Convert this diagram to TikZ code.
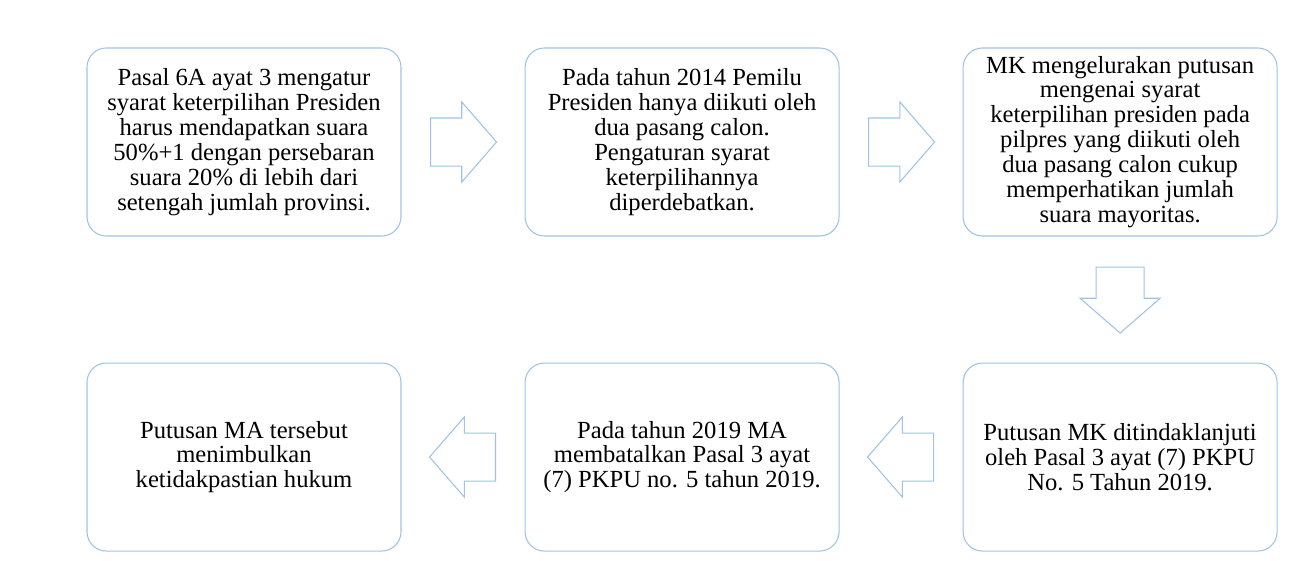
\documentclass[tikz,border=0pt]{standalone}
\usepackage{fontspec}
\setmainfont{Liberation Serif}
\usepackage{xcolor}
\usepackage{tikz}
\usetikzlibrary{positioning,calc,shapes.arrows}
\definecolor{boxblue}{RGB}{157,195,230}
\tikzset{
  stepbox/.style={
    draw=boxblue,
    rectangle,
    rounded corners=11pt,
    line width=0.6pt,
    align=center,
    font=\fontsize{14}{14.2}\selectfont,
    minimum width=62.8mm,
    minimum height=37.6mm,
    inner sep=2pt
  },
  blockarrow/.style={
    draw=boxblue,
    single arrow,
    line width=0.6pt,
    single arrow head extend=3.2mm,
    single arrow head indent=0pt,
    single arrow tip angle=98,
    minimum height=13.2mm,
    inner xsep=0pt,
    inner ysep=4.7mm,
    anchor=tail
  }
}
\begin{document}
\begin{tikzpicture}[
    node distance=25.2mm and 24.6mm
    ]
    \useasboundingbox (0,0) rectangle (25.78,-11.2);

    \node[stepbox] (pasal) at (4.88,-2.84) {Pasal 6A ayat 3 mengatur\\syarat keterpilihan Presiden\\harus mendapatkan suara\\50\%+1 dengan persebaran\\suara 20\% di lebih dari\\setengah jumlah provinsi.};
    \node[stepbox, right=of pasal] (pemilu) {Pada tahun 2014 Pemilu\\Presiden hanya diikuti oleh\\dua pasang calon.\\Pengaturan syarat\\keterpilihannya\\diperdebatkan.};
    \node[stepbox, right=of pemilu] (putusanmk) {MK mengelurakan putusan\\mengenai syarat\\keterpilihan presiden pada\\pilpres yang diikuti oleh\\dua pasang calon cukup\\memperhatikan jumlah\\suara mayoritas.};

    \node[stepbox, below=of putusanmk] (pkpu) {Putusan MK ditindaklanjuti\\oleh Pasal 3 ayat (7) PKPU\\No. 5 Tahun 2019.};
    \node[stepbox, below=of pemilu] (batal) {Pada tahun 2019 MA\\membatalkan Pasal 3 ayat\\(7) PKPU no. 5 tahun 2019.};
    \node[stepbox, below=of pasal] (ketidakpastian) {Putusan MA tersebut\\menimbulkan\\ketidakpastian hukum};

    % block arrows between the steps, tail set half a length before the gap's middle
    \node[blockarrow] (arr1) at ($(pasal.east)!0.5!(pemilu.west)+(-0.66,0)$) {};
    \node[blockarrow] (arr2) at ($(pemilu.east)!0.5!(putusanmk.west)+(-0.66,0)$) {};
    \node[blockarrow, rotate=-90] (arr3) at ($(putusanmk.south)!0.5!(pkpu.north)+(0,0.66)$) {};
    \node[blockarrow, rotate=180] (arr4) at ($(pkpu.west)!0.5!(batal.east)+(0.66,0)$) {};
    \node[blockarrow, rotate=180] (arr5) at ($(batal.west)!0.5!(ketidakpastian.east)+(0.66,0)$) {};

\end{tikzpicture}
\end{document}
